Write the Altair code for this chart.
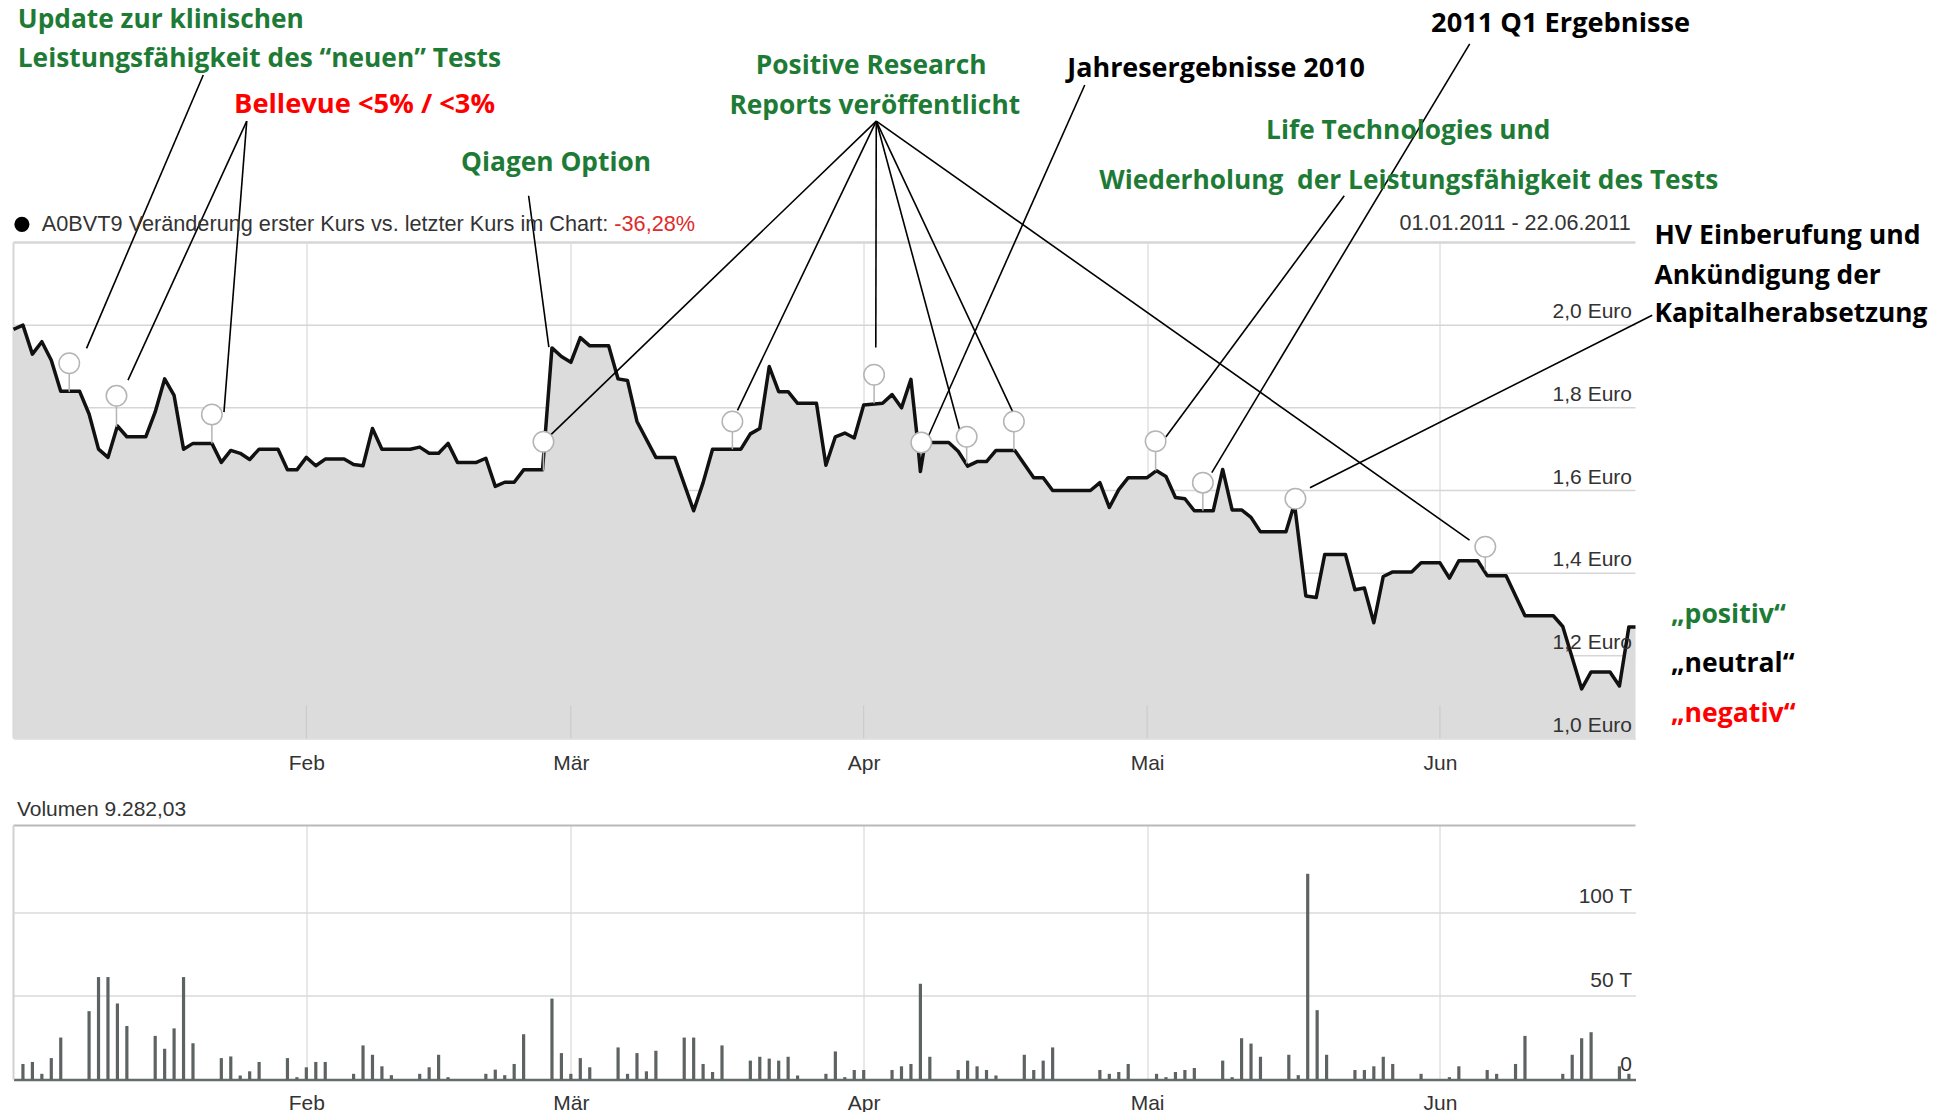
import altair as alt
import pandas as pd

# ---------------- data (x = days since 01.01.2011) ----------------
T0 = 1293840000000          # 2011-01-01 00:00 UTC in ms
DAY = 86400000
X_END = 171.7               # right edge of the chart (22.06.2011)

price_day = [0, 1, 2, 3, 4, 5, 7, 8, 9, 10, 11, 12, 14, 15, 16, 17, 18, 19, 21, 22,
             23, 24, 25, 26, 28, 29, 30, 31, 32, 33, 35, 36, 37, 38, 39, 42, 43, 44, 45, 46,
             47, 49, 50, 51, 52, 53, 54, 56, 57, 58, 59, 60, 61, 63, 64, 65, 66, 68, 70, 72,
             73, 74, 77, 78, 79, 80, 81, 82, 83, 85, 86, 87, 88, 89, 90, 92, 93, 94, 95, 95.7,
             96, 96.5, 99, 100, 101, 102, 103, 104, 106, 108, 109, 110, 114, 115, 116, 117, 118, 120,
             121, 122, 123, 124, 125, 127, 128, 129, 130, 131, 132, 134.7, 135.6, 136.8, 137.9, 138.8,
             141, 142, 143, 144, 145, 146, 148, 149, 151, 152, 153, 155, 156, 158, 160, 163, 164,
             166, 167, 169, 170, 171, 171.7]
price_val = [1.99, 2.00, 1.93, 1.96, 1.915, 1.84, 1.84, 1.785, 1.70, 1.68, 1.756, 1.73, 1.73, 1.79, 1.87, 1.83, 1.70, 1.714, 1.714, 1.668,
             1.697, 1.69, 1.675, 1.70, 1.70, 1.65, 1.65, 1.68, 1.66, 1.676, 1.676, 1.663, 1.66, 1.75, 1.70, 1.70, 1.705, 1.69, 1.69, 1.714,
             1.668, 1.668, 1.678, 1.61, 1.62, 1.62, 1.65, 1.65, 1.945, 1.924, 1.91, 1.97, 1.95, 1.95, 1.87, 1.866, 1.767, 1.68, 1.68, 1.551,
             1.619, 1.70, 1.70, 1.737, 1.75, 1.90, 1.839, 1.839, 1.811, 1.811, 1.661, 1.73, 1.739, 1.727, 1.807, 1.811, 1.832, 1.80, 1.869, 1.72,
             1.646, 1.716, 1.716, 1.695, 1.659, 1.67, 1.67, 1.697, 1.697, 1.631, 1.631, 1.60, 1.60, 1.619, 1.559, 1.602, 1.631, 1.631,
             1.648, 1.634, 1.583, 1.58, 1.551, 1.551, 1.651, 1.553, 1.553, 1.535, 1.50, 1.50, 1.568, 1.345, 1.341, 1.445,
             1.445, 1.36, 1.364, 1.28, 1.392, 1.403, 1.403, 1.425, 1.425, 1.388, 1.43, 1.43, 1.394, 1.394, 1.297, 1.297, 1.271,
             1.12, 1.161, 1.161, 1.127, 1.27, 1.27]

vol_day = [1, 2, 3, 4, 5, 8, 9, 10, 11, 12, 15, 16, 17, 18, 19, 22, 23, 24, 25, 26,
           29, 30, 31, 32, 33, 36, 37, 38, 39, 40, 43, 44, 45, 46, 50, 51, 52, 53, 54, 57,
           58, 59, 60, 61, 64, 65, 66, 67, 68, 71, 72, 73, 74, 75, 78, 79, 80, 81, 82, 83,
           86, 87, 88, 89, 90, 93, 94, 95, 96, 97, 100, 101, 102, 103, 104, 107, 108, 109, 110, 115,
           116, 117, 118, 121, 122, 123, 124, 125, 128, 129, 130, 131, 132, 135, 136, 137, 138, 139, 142, 143,
           144, 145, 146, 149, 152, 153, 156, 157, 159, 160, 164, 165, 166, 167, 170, 171]
vol_val = [9.3, 10.5, 3.4, 12.8, 25.1, 40.9, 61.3, 61.3, 45.5, 32.0, 26.1, 18.4, 30.6, 61.3, 21.7, 12.8, 13.8, 2.4, 4.9, 10.5,
           12.8, 1.4, 7.3, 10.5, 10.5, 3.4, 20.4, 14.8, 7.9, 2.6, 3.4, 7.3, 14.8, 1.4, 3.4, 5.9, 2.6, 9.3, 27.1, 48.4,
           15.8, 3.4, 12.8, 7.3, 19.2, 3.4, 15.8, 4.9, 17.2, 25.1, 25.1, 9.3, 4.5, 20.4, 11.3, 13.6, 12.5, 11.3, 13.6, 2.4,
           3.4, 16.8, 1.4, 5.7, 5.7, 5.7, 7.9, 9.3, 57.3, 13.6, 5.7, 11.3, 7.9, 5.7, 2.4, 14.8, 5.7, 11.3, 19.2, 5.7,
           3.4, 4.5, 9.3, 3.4, 1.4, 4.5, 5.7, 6.9, 11.3, 1.4, 24.7, 21.5, 13.6, 14.8, 2.6, 123.1, 41.5, 14.8, 5.7, 5.7,
           7.9, 13.6, 9.3, 3.4, 1.4, 7.9, 5.7, 3.4, 9.3, 26.1, 3.4, 14.8, 24.7, 28.3, 7.9, 3.4]

month_day = [31, 59, 90, 120, 151]            # Feb, Mär, Apr, Mai, Jun
price_ticks = [1.0, 1.2, 1.4, 1.6, 1.8, 2.0]
price_grid = [1.2, 1.4, 1.6, 1.8, 2.0]
price_top = 2.2
vol_ticks = [0, 50, 100]
vol_top = 152

# event markers (day, marker level, level of the price line below it)
mark_day = [5.9, 10.9, 21.0, 56.1, 76.1, 91.1, 96.1, 100.9, 105.9, 120.9, 125.9, 135.7, 155.8]
mark_val = [1.908, 1.829, 1.784, 1.718, 1.767, 1.880, 1.716, 1.730, 1.767, 1.719, 1.619, 1.580, 1.464]
mark_stem = [1.839, 1.754, 1.714, 1.648, 1.700, 1.811, 1.716, 1.665, 1.697, 1.648, 1.551, 1.580, 1.407]

# connector lines (from label to marker)
conn_x1 = [20.09, 24.69, 24.69, 54.53, 91.33, 91.33, 91.33, 91.33, 91.33, 91.33, 113.4, 140.87, 154.15, 173.47]
conn_y1 = [2.6052, 2.4938, 2.4938, 2.3131, 2.4938, 2.4938, 2.4938, 2.4938, 2.4938, 2.4938, 2.581, 2.3131, 2.6805, 2.024]
conn_x2 = [7.73, 12.12, 22.28, 56.67, 56.76, 76.64, 91.28, 100.36, 105.79, 154.13, 96.81, 121.98, 126.85, 137.24]
conn_y2 = [1.944, 1.867, 1.7896, 1.947, 1.732, 1.794, 1.946, 1.7295, 1.7896, 1.480, 1.7295, 1.7295, 1.6434, 1.6066]

GREEN = "#1e7b36"
RED = "#ff0000"
BLACK = "#000000"
ann_text = ["Update zur klinischen", "Leistungsfähigkeit des “neuen” Tests", "Bellevue <5% / <3%",
            "Qiagen Option", "Positive Research", "Reports veröffentlicht", "Jahresergebnisse 2010",
            "2011 Q1 Ergebnisse", "Life Technologies und", "Wiederholung\u00a0 der Leistungsfähigkeit des Tests",
            "HV Einberufung und", "Ankündigung der", "Kapitalherabsetzung",
            "„positiv“", "„neutral“", "„negativ“"]
ann_day = [0.45, 0.45, 37.16, 57.43, 90.79, 91.17, 127.3, 163.77, 147.65, 147.7,
           173.71, 173.71, 173.71, 175.45, 175.45, 175.45]
ann_val = [2.7375, 2.6446, 2.5338, 2.3915, 2.626, 2.5314, 2.6203, 2.7278, 2.4691, 2.3496,
           2.2162, 2.1183, 2.0272, 1.2999, 1.1799, 1.0598]
ann_size = [26.3, 26.3, 27.3, 26.3, 26.3, 26.3, 26.9, 27.2, 26.3, 26.3,
            26.6, 26.3, 26.3, 26.6, 26.5, 26.6]
ann_color = [GREEN, GREEN, RED, GREEN, GREEN, GREEN, BLACK, BLACK, GREEN, GREEN,
             BLACK, BLACK, BLACK, GREEN, BLACK, RED]
ann_align = ["left", "left", "center", "center", "center", "center", "center", "center", "center", "center",
             "left", "left", "left", "left", "left", "left"]

legend_y = 2.2439
legend_dot_day = 0.89
legend_text = "A0BVT9 Veränderung erster Kurs vs. letzter Kurs im Chart:"
legend_text_day = 3.0
legend_pct = "-36,28%"
legend_pct_day = 63.6
range_text = "01.01.2011 - 22.06.2011"
range_day = 171.18
vol_title = "Volumen 9.282,03"
vol_title_day = 0.36
vol_title_val = 161.3

# ---------------- helpers ----------------
def ms(d):
    return T0 + d * DAY

W = 1622
H1 = 496
H2 = 254
FONT = "Liberation Sans"
ANN_FONT = "Open Sans"

xs = alt.Scale(type="utc", domain=[ms(0), ms(X_END)], nice=False, padding=0)
ys = alt.Scale(domain=[1.0, 2.2], nice=False, zero=False)
vs = alt.Scale(domain=[0, vol_top], nice=False, zero=True)

month_ms = [ms(d) for d in month_day]
month_expr = "['Jan','Feb','Mär','Apr','Mai','Jun','Jul'][utcmonth(datum.value)]"

def x_axis(pad, domain_color, domain_width):
    return alt.Axis(values=month_ms, labelExpr=month_expr, grid=True, gridColor="#d2d2d2",
                    gridWidth=1, ticks=False, tickSize=0, domain=True, domainColor=domain_color,
                    domainWidth=domain_width, labelFont=FONT, labelFontSize=21, labelColor="#333333",
                    labelPadding=pad, labelFlush=False, labelOverlap=False, title=None)

price_x_axis = x_axis(14, "#e2e2e2", 2)
vol_x_axis = x_axis(12.5, "#666b6b", 2.5)
price_axis = alt.Axis(orient="right", values=price_ticks,
                      labelExpr="replace(format(datum.value, '.1f'), '.', ',') + ' Euro'",
                      grid=False, ticks=False, tickSize=0, domain=False, labelAlign="right",
                      labelBaseline="alphabetic", labelPadding=-4, labelOffset=-7.5, labelFont=FONT,
                      labelFontSize=21, labelColor="#333333", title=None, zindex=1)
vol_axis = alt.Axis(orient="right", values=vol_ticks,
                    labelExpr="datum.value == 0 ? '0' : format(datum.value, 'd') + ' T'",
                    grid=True, gridColor="#dadada", gridWidth=1.5, ticks=False, tickSize=0,
                    domain=False, labelAlign="right", labelBaseline="alphabetic", labelPadding=-4,
                    labelOffset=-9.5, labelFont=FONT, labelFontSize=21, labelColor="#333333", title=None)

# every layer of a panel uses the same axis definitions so they merge cleanly
def PX(field="t:T"):
    return alt.X(field, scale=xs, axis=price_x_axis)

def PY(field):
    return alt.Y(field, scale=ys, axis=price_axis)

def VX(field="t:T"):
    return alt.X(field, scale=xs, axis=vol_x_axis)

def VY(field):
    return alt.Y(field, scale=vs, axis=vol_axis)

price_df = pd.DataFrame({"t": [ms(d) for d in price_day], "p": price_val})
vol_df = pd.DataFrame({"t": [ms(d) for d in vol_day], "v": vol_val})
grid_df = pd.DataFrame({"v": price_grid})
top_df = pd.DataFrame({"v": [price_top]})
left_df = pd.DataFrame({"t": [ms(0)]})
mtick_df = pd.DataFrame({"t": month_ms, "lo": [1.0] * len(month_ms), "hi": [1.08] * len(month_ms)})
mark_df = pd.DataFrame({"t": [ms(d) for d in mark_day], "m": mark_val, "s": mark_stem})
conn_df = pd.DataFrame({"t1": [ms(d) for d in conn_x1], "y1": conn_y1,
                        "t2": [ms(d) for d in conn_x2], "y2": conn_y2})
ann_df = pd.DataFrame({"t": [ms(d) for d in ann_day], "p": ann_val, "txt": ann_text,
                       "c": ann_color, "a": ann_align, "fs": ann_size})
leg_df = pd.DataFrame({"t": [ms(legend_dot_day)], "p": [legend_y]})
legt_df = pd.DataFrame({"t": [ms(legend_text_day)], "p": [legend_y], "txt": [legend_text]})
legp_df = pd.DataFrame({"t": [ms(legend_pct_day)], "p": [legend_y], "txt": [legend_pct]})
rng_df = pd.DataFrame({"t": [ms(range_day)], "p": [legend_y], "txt": [range_text]})
vtitle_df = pd.DataFrame({"t": [ms(vol_title_day)], "v": [vol_title_val], "txt": [vol_title]})
vtop_df = pd.DataFrame({"v": [vol_top]})

# ---------------- price panel ----------------
grid_rules = alt.Chart(grid_df).mark_rule(color="#d6d6d6", strokeWidth=1.5).encode(y=PY("v:Q"))
top_border = alt.Chart(top_df).mark_rule(color="#d6d6d6", strokeWidth=2.5).encode(y=PY("v:Q"))
left_border = alt.Chart(left_df).mark_rule(color="#d6d6d6", strokeWidth=2).encode(x=PX())
area = alt.Chart(price_df).mark_area(color="#dcdcdc", opacity=1).encode(
    x=PX(), y=PY("p:Q"), y2=alt.datum(1.0))
month_marks = alt.Chart(mtick_df).mark_rule(color="#c8c8c8", strokeWidth=1).encode(
    x=PX(), y=PY("lo:Q"), y2="hi:Q")
line = alt.Chart(price_df).mark_line(color="#111111", strokeWidth=3.5, strokeJoin="round").encode(
    x=PX(), y=PY("p:Q"))
stems = alt.Chart(mark_df).mark_rule(color="#b4b4b4", strokeWidth=1.5).encode(
    x=PX(), y=PY("m:Q"), y2="s:Q")
connectors = alt.Chart(conn_df).mark_rule(color="black", strokeWidth=1.6).encode(
    x=PX("t1:T"), x2="t2:T", y=PY("y1:Q"), y2="y2:Q")
markers = alt.Chart(mark_df).mark_circle(fill="white", stroke="#b4b4b4", strokeWidth=1.5,
                                         size=420, opacity=1).encode(x=PX(), y=PY("m:Q"))
legend_dot = alt.Chart(leg_df).mark_circle(color="black", size=230, opacity=1).encode(x=PX(), y=PY("p:Q"))
legend_txt = alt.Chart(legt_df).mark_text(font=FONT, fontSize=21.7, color="#333333", align="left",
                                          baseline="middle").encode(x=PX(), y=PY("p:Q"), text="txt:N")
legend_pc = alt.Chart(legp_df).mark_text(font=FONT, fontSize=21.7, color="#e02b2b", align="left",
                                         baseline="middle").encode(x=PX(), y=PY("p:Q"), text="txt:N")
range_txt = alt.Chart(rng_df).mark_text(font=FONT, fontSize=21.5, color="#333333", align="right",
                                        baseline="middle").encode(x=PX(), y=PY("p:Q"), text="txt:N")

def ann_layer(al):
    return alt.Chart(ann_df).transform_filter(alt.datum.a == al).mark_text(
        font=ANN_FONT, fontWeight="bold", align=al, baseline="middle").encode(
        x=PX(), y=PY("p:Q"), text="txt:N", color=alt.Color("c:N", scale=None),
        size=alt.Size("fs:Q", scale=None))

price_panel = alt.layer(
    grid_rules, top_border, left_border, area, month_marks, line, stems, connectors, markers,
    legend_dot, legend_txt, legend_pc, range_txt, ann_layer("left"), ann_layer("center"),
).properties(width=W, height=H1)

# ---------------- volume panel ----------------
vtop = alt.Chart(vtop_df).mark_rule(color="#b9b9b9", strokeWidth=2).encode(y=VY("v:Q"))
vleft = alt.Chart(left_df).mark_rule(color="#d0d0d0", strokeWidth=2).encode(x=VX())
bars = alt.Chart(vol_df).mark_bar(color="#5d6363", width=3.2).encode(x=VX(), y=VY("v:Q"))
vtitle = alt.Chart(vtitle_df).mark_text(font=FONT, fontSize=21, color="#333333", align="left",
                                        baseline="middle").encode(x=VX(), y=VY("v:Q"), text="txt:N")
vol_panel = alt.layer(vtop, vleft, bars, vtitle).properties(width=W, height=H2)

chart = alt.vconcat(price_panel, vol_panel, spacing=87, bounds="flush").properties(
    padding={"left": 3.5, "top": -1.5, "right": 0, "bottom": 0}
).configure_view(strokeWidth=0)

chart.save("out.html", embed_options={"renderer": "svg", "actions": False})
